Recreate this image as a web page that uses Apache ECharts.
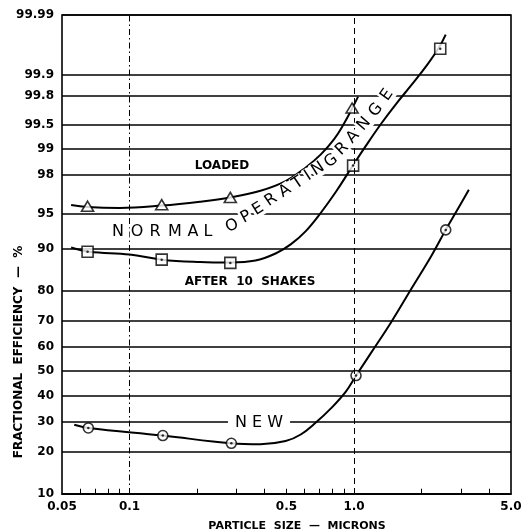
<!DOCTYPE html>
<html>
<head>
<meta charset="utf-8">
<script src="https://cdn.jsdelivr.net/npm/echarts@6/dist/echarts.min.js"></script>
<style>
  html, body { margin: 0; padding: 0; background: #fff; }
  #chart { width: 528px; height: 532px; }
</style>
</head>
<body>
<div id="chart"></div>
<script>
// particle size (microns) / fractional efficiency (%)
const xTickValues = [0.05, 0.1, 0.5, 1, 5];
const xTickLabels = ['0.05', '0.1', '0.5', '1.0', '5.0'];
const xMinorTicks = [0.06, 0.07, 0.08, 0.09, 0.2, 0.3, 0.4, 0.5, 0.6, 0.7, 0.8, 0.9, 2, 3, 4];
const yTickValues = [10, 20, 30, 40, 50, 60, 70, 80, 90, 95, 98, 99, 99.5, 99.8, 99.9, 99.99];
const yTickLabels = ['10', '20', '30', '40', '50', '60', '70', '80', '90', '95', '98', '99', '99.5', '99.8', '99.9', '99.99'];

// measured points
const loadedX = [0.065, 0.139, 0.281, 0.98];
const loadedY = [95.75, 95.9, 96.52, 99.7];
const shakesX = [0.065, 0.139, 0.281, 0.99, 2.42];
const shakesY = [89.4, 87.8, 87.1, 98.41, 99.962];
const newX = [0.0655, 0.1406, 0.284, 1.02, 2.56];
const newY = [27.7, 25.1, 22.6, 48.2, 93.0];

// faired curves through the points
const loadedCurveX = [0.0549, 0.0648, 0.0902, 0.1392, 0.206, 0.281, 0.383, 0.4955, 0.6094, 0.7112, 0.8134, 0.9021, 0.9795, 1.042];
const loadedCurveY = [95.86, 95.68, 95.59, 95.81, 96.16, 96.52, 97.02, 97.64, 98.33, 98.82, 99.224, 99.515, 99.695, 99.793];
const shakesCurveX = [0.0549, 0.0662, 0.1, 0.1392, 0.206, 0.281, 0.3636, 0.447, 0.522, 0.6094, 0.7112, 0.8302, 0.9694, 1.1319, 1.322, 1.543, 1.802, 2.1036, 2.381, 2.559];
const shakesCurveY = [90.18, 89.4, 88.85, 87.8, 87.29, 87.18, 87.6, 89.05, 90.73, 92.83, 95.1, 96.95, 98.29, 99.08, 99.515, 99.74, 99.86, 99.929, 99.963, 99.978];
const newCurveX = [0.0567, 0.0655, 0.1406, 0.2838, 0.383, 0.4955, 0.5785, 0.6754, 0.7886, 0.9207, 1.021, 1.192, 1.465, 1.802, 2.2147, 2.559, 2.867, 3.245];
const newCurveY = [28.8, 27.7, 25.1, 22.6, 22.3, 23.3, 25.45, 29.6, 34.9, 41.7, 48.2, 57.7, 69.65, 80.6, 88.65, 93.0, 95.3, 97.1];

// inverse normal (probability paper)
function probit(p) {
  const a = [-3.969683028665376e+01, 2.209460984245205e+02, -2.759285104469687e+02, 1.383577518672690e+02, -3.066479806614716e+01, 2.506628277459239e+00];
  const b = [-5.447609879822406e+01, 1.615858368580409e+02, -1.556989798598866e+02, 6.680131188771972e+01, -1.328068155288572e+01];
  const c = [-7.784894002430293e-03, -3.223964580411365e-01, -2.400758277161838e+00, -2.549732539343734e+00, 4.374664141464968e+00, 2.938163982698783e+00];
  const d = [7.784695709041462e-03, 3.224671290700398e-01, 2.445134137142996e+00, 3.754408661907416e+00];
  const pl = 0.02425;
  let q, r;
  if (p < pl) {
    q = Math.sqrt(-2 * Math.log(p));
    return (((((c[0]*q+c[1])*q+c[2])*q+c[3])*q+c[4])*q+c[5]) / ((((d[0]*q+d[1])*q+d[2])*q+d[3])*q+1);
  }
  if (p <= 1 - pl) {
    q = p - 0.5; r = q * q;
    return (((((a[0]*r+a[1])*r+a[2])*r+a[3])*r+a[4])*r+a[5])*q / (((((b[0]*r+b[1])*r+b[2])*r+b[3])*r+b[4])*r+1);
  }
  q = Math.sqrt(-2 * Math.log(1 - p));
  return -(((((c[0]*q+c[1])*q+c[2])*q+c[3])*q+c[4])*q+c[5]) / ((((d[0]*q+d[1])*q+d[2])*q+d[3])*q+1);
}
const zOf = pct => probit(pct / 100);
const lg = v => Math.log10(v);
const pairs = (xs, ys) => xs.map((x, i) => [lg(x), zOf(ys[i])]);

const yZ = yTickValues.map(zOf);
const xL = xTickValues.map(lg);
const zMin = zOf(10);
const tickLen = 0.055; // short inside ticks on the bottom axis (in probit units)

const font = 'DejaVu Sans';
const markerStyle = {color: '#fff', borderColor: '#000', borderWidth: 1.6};
const curveStyle = {color: '#000', width: 2};

// curved "NORMAL OPERATING RANGE" lettering
const bandLetters = [
  ['N', 118, 232, 0], ['O', 137, 232, 0], ['R', 155, 232, 0], ['M', 175, 232, 0], ['A', 193, 232, 0], ['L', 208, 232, 0],
  ['O', 232, 226, 20], ['P', 246, 217, 28], ['E', 258, 209, 32], ['R', 271, 200, 34], ['A', 285, 191, 34],
  ['T', 298, 183, 34], ['I', 308, 176, 33], ['N', 318, 169, 33], ['G', 331, 161, 36],
  ['R', 342, 149, 44], ['A', 353, 137, 47], ['N', 364, 124, 49], ['G', 376, 110, 51], ['E', 387, 95, 55]
];

const graphics = bandLetters.map(([t, x, y, deg]) => ({
  type: 'text', x: x, y: y, rotation: deg * Math.PI / 180, z: 50,
  style: {text: t, fontSize: 16, fontFamily: font, fill: '#000', align: 'center', verticalAlign: 'middle',
          backgroundColor: '#fff', padding: [0, 1]}
}));
graphics.push(
  {type: 'text', x: 222, y: 166, z: 50,
   style: {text: 'LOADED', fontSize: 12, fontWeight: 'bold', fontFamily: font, fill: '#000', align: 'center', verticalAlign: 'middle'}},
  {type: 'text', x: 250, y: 282, z: 50,
   style: {text: 'AFTER  10  SHAKES', fontSize: 12, fontWeight: 'bold', fontFamily: font, fill: '#000', align: 'center', verticalAlign: 'middle'}},
  {type: 'text', x: 259, y: 423, z: 50,
   style: {text: 'N E W', fontSize: 16, fontFamily: font, fill: '#000', align: 'center', verticalAlign: 'middle',
           backgroundColor: '#fff', padding: [1, 7]}},
  {type: 'text', x: 19, y: 352, rotation: Math.PI / 2, z: 50,
   style: {text: 'FRACTIONAL  EFFICIENCY  —  %', fontSize: 12, fontWeight: 'bold', fontFamily: font, fill: '#000', align: 'center', verticalAlign: 'middle'}},
  {type: 'text', x: 297, y: 526, z: 50,
   style: {text: 'PARTICLE  SIZE  —  MICRONS', fontSize: 11, fontWeight: 'bold', fontFamily: font, fill: '#000', align: 'center', verticalAlign: 'middle'}}
);

const minorTickLines = xMinorTicks.map(v => [
  {xAxis: lg(v), yAxis: zMin},
  {xAxis: lg(v), yAxis: zMin + tickLen}
]);

const chart = echarts.init(document.getElementById('chart'));
chart.setOption({
  animation: false,
  backgroundColor: '#fff',
  grid: {left: 62, right: 17, top: 15, bottom: 38, show: true, borderColor: '#000', borderWidth: 1.6, backgroundColor: 'transparent'},
  xAxis: {
    type: 'value', min: lg(0.05), max: lg(5),
    axisLine: {show: true, onZero: false, lineStyle: {color: '#000', width: 1.6}},
    splitLine: {show: false},
    axisTick: {show: false},
    axisLabel: {
      customValues: xL, margin: 7, color: '#000', fontSize: 12, fontWeight: 'bold', fontFamily: font,
      formatter: v => { const i = xL.findIndex(t => Math.abs(t - v) < 1e-9); return i >= 0 ? xTickLabels[i] : ''; }
    }
  },
  yAxis: {
    type: 'value', min: zOf(10), max: zOf(99.99),
    axisLine: {show: false, onZero: false},
    axisTick: {show: false, customValues: yZ},
    splitLine: {show: true, lineStyle: {color: '#000', width: 1.6}},
    axisLabel: {
      customValues: yZ, margin: 8, color: '#000', fontSize: 12, fontWeight: 'bold', fontFamily: font,
      formatter: v => { const i = yZ.findIndex(t => Math.abs(t - v) < 1e-9); return i >= 0 ? yTickLabels[i] : ''; }
    }
  },
  graphic: graphics,
  series: [
    {type: 'line', name: 'loaded curve', data: pairs(loadedCurveX, loadedCurveY), smooth: 0.4,
     showSymbol: false, lineStyle: curveStyle, z: 3,
     markLine: {silent: true, symbol: ['none', 'none'], label: {show: false},
       data: [
         {xAxis: lg(0.1), lineStyle: {color: '#000', width: 1, type: [6, 3, 1.5, 3]}},
         {xAxis: lg(1), lineStyle: {color: '#000', width: 1, type: [6, 4]}}
       ].concat(minorTickLines.map(seg => [
         Object.assign({lineStyle: {color: '#000', width: 1, type: 'solid'}}, seg[0]), seg[1]
       ]))}},
    {type: 'line', name: 'shakes curve', data: pairs(shakesCurveX, shakesCurveY), smooth: 0.4,
     showSymbol: false, lineStyle: curveStyle, z: 3},
    {type: 'line', name: 'new curve', data: pairs(newCurveX, newCurveY), smooth: 0.4,
     showSymbol: false, lineStyle: curveStyle, z: 3},
    {type: 'scatter', name: 'LOADED', data: pairs(loadedX, loadedY), symbol: 'triangle', symbolSize: [12, 10],
     itemStyle: markerStyle, z: 4},
    {type: 'scatter', name: 'AFTER 10 SHAKES', data: pairs(shakesX, shakesY), symbol: 'rect', symbolSize: 11,
     itemStyle: markerStyle, z: 4},
    {type: 'scatter', name: 'NEW', data: pairs(newX, newY), symbol: 'circle', symbolSize: 10,
     itemStyle: markerStyle, z: 4},
    {type: 'scatter', name: 'centres', symbol: 'circle', symbolSize: 2.5, itemStyle: {color: '#000'}, z: 5,
     data: pairs(shakesX.concat(newX), shakesY.concat(newY))}
  ]
});
</script>
</body>
</html>
